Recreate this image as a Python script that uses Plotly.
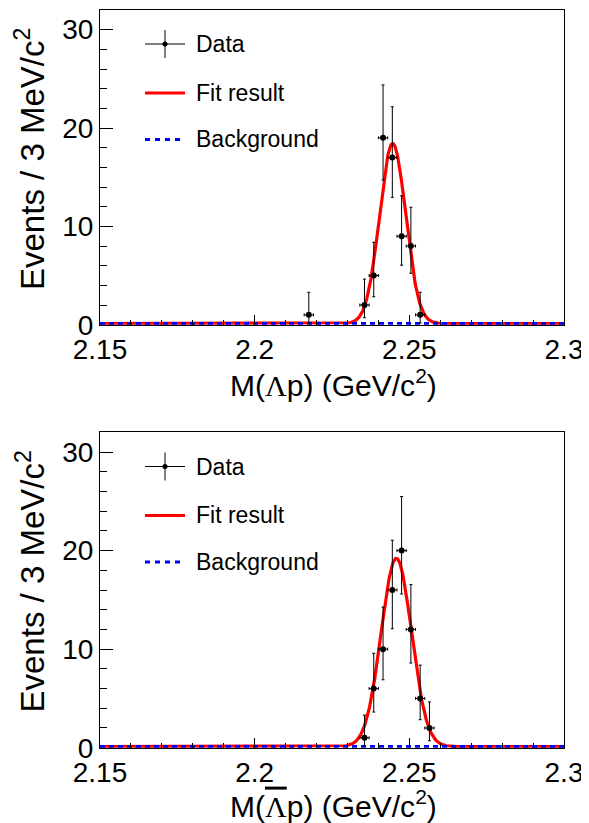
import numpy as np
import plotly.graph_objects as go

# ---------------- data ----------------
BIN_WIDTH = 0.003
x_range = [2.15, 2.30]
y_range = [0, 32]
x_ticks = [2.15, 2.20, 2.25, 2.30]
x_ticklabels = ["2.15", "2.2", "2.25", "2.3"]
y_ticks = [0, 10, 20, 30]

top_mass = [2.2175, 2.2355, 2.2385, 2.2415, 2.2445, 2.2475, 2.2505, 2.2535]
top_counts = [1, 2, 5, 19, 17, 9, 8, 1]
top_err_hi = [2.30, 2.64, 3.38, 5.38, 5.16, 4.11, 3.94, 2.30]
top_err_lo = [0.83, 1.29, 2.16, 4.29, 4.05, 2.95, 2.77, 0.83]

bot_mass = [2.2355, 2.2385, 2.2415, 2.2445, 2.2475, 2.2505, 2.2535, 2.2565]
bot_counts = [1, 6, 10, 16, 20, 12, 5, 2]
bot_err_hi = [2.30, 3.58, 4.27, 5.05, 5.48, 4.55, 3.38, 2.64]
bot_err_lo = [0.83, 2.38, 3.11, 3.93, 4.40, 3.41, 2.16, 1.29]

top_fit = dict(mean=2.2446, sigma=0.0042, peak=18.3, bkg=0.12)
bot_fit = dict(mean=2.2458, sigma=0.0049, peak=19.1, bkg=0.12)

legend_labels = ["Data", "Fit result", "Background"]
x_titles = ["M(<span style=\"font-family:'Liberation Serif'\">Λ</span>p) (GeV/c<sup>2</sup>)",
            "M(<span style=\"font-family:'Liberation Serif';text-decoration:overline\">Λ</span>p) (GeV/c<sup>2</sup>)"]
y_title = "Events / 3 MeV/c<sup>2</sup>"

# ---------------- layout helpers ----------------
# the page body has an 8px margin, so the figure is 8px smaller and
# positions below are given in window pixels and converted here.
OFF = 8
W, H = 589 - OFF, 823 - OFF
FONT = "Liberation Sans"


def px(x):
    return (x - OFF) / W


def py(y):
    return 1 - (y - OFF) / H


RED = "#ff0000"
BLUE = "#0000ff"

fig = go.Figure()

panels = [
    (top_mass, top_counts, top_err_hi, top_err_lo, top_fit, "x", "y", 0.0),
    (bot_mass, bot_counts, bot_err_hi, bot_err_lo, bot_fit, "x2", "y2", 422.5),
]

xgrid = np.linspace(x_range[0], x_range[1], 1201)

for (m, c, eh, el, fit, xa, ya, off) in panels:
    model = fit["bkg"] + fit["peak"] * np.exp(-0.5 * ((xgrid - fit["mean"]) / fit["sigma"]) ** 2)
    bkg = np.full_like(xgrid, fit["bkg"])
    fig.add_trace(go.Scatter(x=xgrid, y=model, mode="lines", xaxis=xa, yaxis=ya,
                             line=dict(color=RED, width=3.2), showlegend=False))
    fig.add_trace(go.Scatter(x=xgrid, y=bkg, mode="lines", xaxis=xa, yaxis=ya,
                             line=dict(color=BLUE, width=3, dash="5px,4px"), showlegend=False))
    fig.add_trace(go.Scatter(
        x=m, y=c, mode="markers", xaxis=xa, yaxis=ya, showlegend=False,
        marker=dict(color="black", size=6, symbol="circle"),
        error_y=dict(type="data", symmetric=False, array=eh, arrayminus=el,
                     color="black", thickness=1, width=1.5),
        error_x=dict(type="constant", value=BIN_WIDTH / 2, color="black", thickness=1, width=1.5),
    ))

    # legend (drawn manually, ROOT style)
    ly = [44 + off, 93 + off, 139.5 + off]
    fig.add_shape(type="line", xref="paper", yref="paper", x0=px(145), x1=px(185), y0=py(ly[0]), y1=py(ly[0]),
                  line=dict(color="black", width=1))
    fig.add_shape(type="line", xref="paper", yref="paper", x0=px(165), x1=px(165), y0=py(ly[0] - 14), y1=py(ly[0] + 14),
                  line=dict(color="black", width=1))
    fig.add_shape(type="circle", xref="paper", yref="paper", x0=px(162.5), x1=px(167.5), y0=py(ly[0] - 2.5), y1=py(ly[0] + 2.5),
                  line=dict(color="black", width=0), fillcolor="black")
    fig.add_shape(type="line", xref="paper", yref="paper", x0=px(145), x1=px(185), y0=py(ly[1]), y1=py(ly[1]),
                  line=dict(color=RED, width=3))
    fig.add_shape(type="line", xref="paper", yref="paper", x0=px(145), x1=px(185), y0=py(ly[2]), y1=py(ly[2]),
                  line=dict(color=BLUE, width=3, dash="5px,5px"))
    for lab, yy in zip(legend_labels, ly):
        fig.add_annotation(text=lab, xref="paper", yref="paper", x=px(194), y=py(yy), xanchor="left", yanchor="middle",
                           showarrow=False, font=dict(family=FONT, size=23, color="black"))

    # axis titles
    fig.add_annotation(text=y_title, xref="paper", yref="paper", x=px(30), y=py(159 + off), xanchor="center", yanchor="middle",
                       textangle=-90, showarrow=False, font=dict(family=FONT, size=33, color="black"))

fig.add_annotation(text=x_titles[0], xref="paper", yref="paper", x=px(333), y=py(383), xanchor="center", yanchor="middle",
                   showarrow=False, font=dict(family=FONT, size=30, color="black"))
fig.add_annotation(text=x_titles[1], xref="paper", yref="paper", x=px(333), y=py(381 + 422.5), xanchor="center", yanchor="middle",
                   showarrow=False, font=dict(family=FONT, size=30, color="black"))

xdom = [px(100), px(564)]
axis_common = dict(showline=True, linecolor="black", linewidth=1, mirror=True, showgrid=False, zeroline=False,
                   ticks="inside", tickcolor="black", tickwidth=1, automargin=False,
                   tickfont=dict(family=FONT, size=28, color="black"))

xaxis_cfg = dict(axis_common, range=x_range, tickvals=x_ticks, ticktext=x_ticklabels, ticklen=10,
                 minor=dict(dtick=0.01, ticks="inside", ticklen=5, tickcolor="black", tickwidth=1), domain=xdom)
yaxis_cfg = dict(axis_common, range=y_range, tickvals=y_ticks, ticklen=13,
                 minor=dict(dtick=2, ticks="inside", ticklen=6.5, tickcolor="black", tickwidth=1))

fig.update_layout(
    width=W, height=H, margin=dict(l=0, r=0, t=0, b=0, pad=0, autoexpand=False),
    paper_bgcolor="white", plot_bgcolor="white", showlegend=False,
    xaxis=dict(xaxis_cfg, anchor="y"),
    yaxis=dict(yaxis_cfg, anchor="x", domain=[py(324.7), py(10)]),
    xaxis2=dict(xaxis_cfg, anchor="y2"),
    yaxis2=dict(yaxis_cfg, anchor="x2", domain=[py(747.7), py(432.3)]),
)

fig.write_html("out.html")
